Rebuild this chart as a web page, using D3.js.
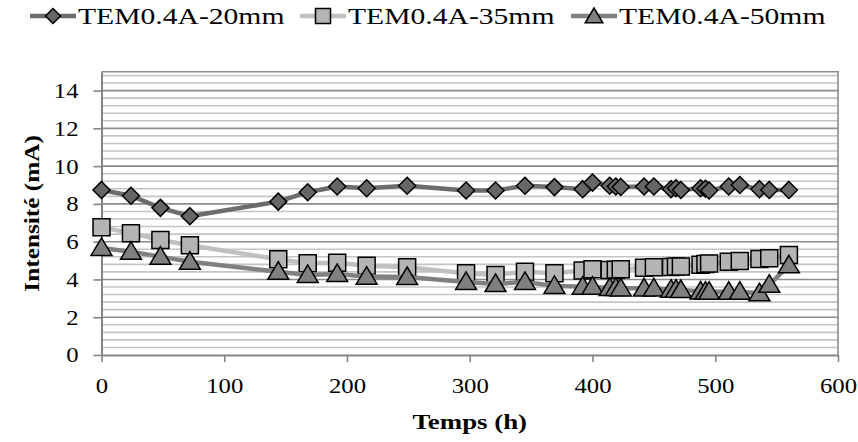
<!DOCTYPE html>
<html><head><meta charset="utf-8">
<script src="https://cdn.jsdelivr.net/npm/d3@7/dist/d3.min.js"></script>
<style>body{margin:0;background:#fff}svg{display:block}</style>
</head><body><svg id="c" width="858" height="442"></svg>
<script>
const times = [0,24,48,72,144,168,192,216,249,297,321,345,369,392,400,414,419,423,442,450,464,468,472,488,492,495,511,520,536,544,560];
const s20 = [8.74,8.43,7.79,7.35,8.12,8.62,8.92,8.83,8.96,8.71,8.71,8.96,8.89,8.78,9.13,8.96,8.92,8.90,8.92,8.92,8.78,8.83,8.74,8.83,8.80,8.71,8.92,9.00,8.78,8.74,8.74];
const s35 = [6.77,6.45,6.09,5.81,5.07,4.86,4.89,4.72,4.65,4.33,4.24,4.41,4.33,4.47,4.54,4.50,4.52,4.54,4.62,4.65,4.66,4.68,4.68,4.78,4.82,4.84,4.94,4.98,5.08,5.12,5.30];
const s50 = [5.67,5.47,5.21,4.94,4.41,4.24,4.29,4.15,4.13,3.87,3.76,3.87,3.66,3.62,3.62,3.55,3.55,3.53,3.53,3.53,3.46,3.46,3.44,3.37,3.35,3.35,3.35,3.35,3.27,3.72,4.75];
const seriesNames = ["TEM0.4A-20mm","TEM0.4A-35mm","TEM0.4A-50mm"];
const xTicks = [0,100,200,300,400,500,600];
const yTicks = [0,2,4,6,8,10,12,14];
const xTitle = "Temps (h)";
const yTitle = "Intensité (mA)";

const FONT = "Liberation Serif";
const svg = d3.select("#c");
const L=101.5,R=838,T=71.7,B=355;
const x = d3.scaleLinear().domain([0,600]).range([L,R]);
const y = d3.scaleLinear().domain([0,15]).range([B,T]);

function stretch(sel,k){
  sel.each(function(){
    const len=this.getComputedTextLength();
    d3.select(this).attr("textLength",len*k).attr("lengthAdjust","spacingAndGlyphs");
  });
}

const minor = d3.range(1,38).map(i=>+(i*0.4).toFixed(1)).filter(v=>Math.abs(v/2-Math.round(v/2))>1e-6);
svg.append("g").selectAll("line").data(minor).join("line")
  .attr("x1",L).attr("x2",R).attr("y1",d=>y(d)).attr("y2",d=>y(d))
  .attr("stroke","#c4c4c4").attr("stroke-width",1.6);
svg.append("g").selectAll("line").data(yTicks.filter(d=>d>0)).join("line")
  .attr("x1",L).attr("x2",R).attr("y1",d=>y(d)).attr("y2",d=>y(d))
  .attr("stroke","#8c8c8c").attr("stroke-width",1.6);
svg.append("path").attr("d",`M${L},${y(15)}H${R}V${B}`).attr("fill","none").attr("stroke","#8c8c8c").attr("stroke-width",1.6);

const xAxis = svg.append("g").attr("transform",`translate(0,${B})`)
  .call(d3.axisBottom(x).tickValues(xTicks).tickSize(7).tickPadding(16).tickSizeOuter(0));
const yAxis = svg.append("g").attr("transform",`translate(${L},0)`)
  .call(d3.axisLeft(y).tickValues(yTicks).tickSize(8).tickPadding(15).tickSizeOuter(0));
[xAxis,yAxis].forEach(a=>{
  a.attr("font-family",FONT);
  a.select(".domain").attr("stroke","#858585").attr("stroke-width",2);
  a.selectAll(".tick line").attr("stroke","#858585").attr("stroke-width",1.6);
  a.selectAll("text").attr("font-size",21.5).attr("fill","#000");
  stretch(a.selectAll("text"),1.15);
});

const xt = svg.append("text").attr("x",(L+R)/2).attr("y",429).attr("text-anchor","middle").attr("font-family",FONT)
  .attr("font-size",22).attr("font-weight","bold").text(xTitle);
stretch(xt,1.22);
const yt = svg.append("text").attr("transform",`translate(39,${(T+B)/2}) rotate(-90)`).attr("text-anchor","middle").attr("font-family",FONT)
  .attr("font-size",22).attr("font-weight","bold").text(yTitle);
stretch(yt,1.15);

const sym = {
  diamond: (s)=>`M0,${-s}L${s},0L0,${s}L${-s},0Z`,
  square: (s)=>`M${-s},${-s}H${s}V${s}H${-s}Z`,
  triangle: (s)=>`M0,${-s*1.0}L${s*1.1},${s*0.85}L${-s*1.1},${s*0.85}Z`
};
const series = [
  {name:seriesNames[0],vals:s20,line:"#6c6c6c",fill:"#666666",shape:"diamond",size:8.5},
  {name:seriesNames[1],vals:s35,line:"#c0c0c0",fill:"#b4b4b4",shape:"square",size:8.5},
  {name:seriesNames[2],vals:s50,line:"#808080",fill:"#808080",shape:"triangle",size:9.5},
];
const line = d3.line().x(d=>x(d[0])).y(d=>y(d[1]));
series.forEach(s=>{
  const pts = times.map((t,i)=>[t,s.vals[i]]);
  svg.append("path").datum(pts).attr("d",line).attr("fill","none")
    .attr("stroke",s.line).attr("stroke-width",4.5).attr("stroke-linejoin","round");
  const off = s.shape==="triangle"? -0.5 : 0;
  svg.append("g").selectAll("path").data(pts).join("path")
    .attr("transform",d=>`translate(${x(d[0])},${y(d[1])+off})`)
    .attr("d",sym[s.shape](s.size)).attr("fill",s.fill).attr("stroke","#000").attr("stroke-width",1.5);
});

const lx=[30,300,571];
series.forEach((s,i)=>{
  const g=svg.append("g").attr("transform",`translate(${lx[i]},16)`);
  g.append("line").attr("x1",0).attr("x2",46).attr("stroke",s.line).attr("stroke-width",4.5);
  g.append("path").attr("transform","translate(23,0)").attr("d",sym[s.shape](s.shape==="triangle"?8:7.5))
    .attr("fill",s.fill).attr("stroke","#000").attr("stroke-width",1.5);
  const t=g.append("text").attr("x",48).attr("y",8).attr("font-size",23.5).attr("font-family",FONT).text(s.name);
  stretch(t,1.26);
});
</script></body></html>
